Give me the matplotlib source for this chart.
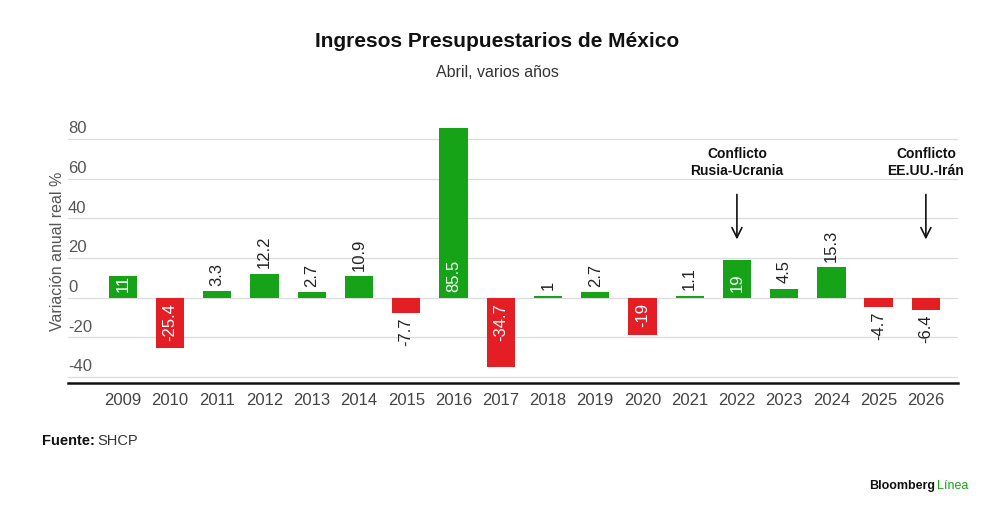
import numpy as np
import matplotlib.pyplot as plt
from matplotlib import transforms

plt.rcParams['font.family'] = ['Liberation Sans', 'DejaVu Sans']

# datos
years = ['2009', '2010', '2011', '2012', '2013', '2014', '2015', '2016', '2017',
         '2018', '2019', '2020', '2021', '2022', '2023', '2024', '2025', '2026']
values = [11, -25.4, 3.3, 12.2, 2.7, 10.9, -7.7, 85.5, -34.7,
          1, 2.7, -19, 1.1, 19, 4.5, 15.3, -4.7, -6.4]
label_inside = [True, True, False, False, False, False, False, True, True,
                False, False, True, False, True, False, False, False, False]
yticks = [-40, -20, 0, 20, 40, 60, 80]
notes = {'2022': 'Conflicto\nRusia-Ucrania', '2026': 'Conflicto\nEE.UU.-Irán'}

GREEN = '#16a318'
RED = '#e31e24'

fig = plt.figure(figsize=(10, 5.16), dpi=100)
ax = fig.add_axes([0.068, 0.2578, 0.89, 0.511])

x = np.arange(len(years))
colors = [GREEN if v >= 0 else RED for v in values]
ax.bar(x, values, width=0.6, color=colors, zorder=3)

ax.set_xlim(-1.16, len(years) - 1 + 0.68)
ax.set_ylim(-43, 90)

# grid + etiquetas del eje y dentro del area
for t in yticks:
    ax.axhline(t, color='#dcdcdc', lw=0.9, zorder=1)
    ax.annotate(str(t), xy=(0, t), xycoords=ax.get_yaxis_transform(),
                xytext=(0, 2), textcoords='offset points',
                ha='left', va='bottom', fontsize=12, color='#555555')
ax.set_yticks([])

ax.set_xticks(x)
ax.set_xticklabels(years, fontsize=12, color='#444444')
ax.tick_params(axis='x', length=0, pad=7)

for s in ['top', 'right', 'left']:
    ax.spines[s].set_visible(False)
ax.spines['bottom'].set_color('#111111')
ax.spines['bottom'].set_linewidth(1.8)
ax.spines['bottom'].set_zorder(4)

ax.set_ylabel('Variación anual real %', fontsize=11.5, color='#555555', labelpad=2)

# etiquetas de valor
for xi, v, inside in zip(x, values, label_inside):
    txt = f'{v:g}'
    if inside:
        off = 4 if v > 0 else -4
        ax.annotate(txt, xy=(xi, 0), xytext=(0, off), textcoords='offset points',
                    ha='center', va='bottom' if v > 0 else 'top',
                    rotation=90, fontsize=12, color='white', zorder=5)
    else:
        off = 4 if v > 0 else -3
        ax.annotate(txt, xy=(xi, v), xytext=(0, off), textcoords='offset points',
                    ha='center', va='bottom' if v > 0 else 'top',
                    rotation=90, fontsize=12, color='#222222', zorder=5)

# anotaciones
for yr, note in notes.items():
    xi = years.index(yr)
    ax.annotate('', xy=(xi, 28), xytext=(xi, 53.5),
                arrowprops=dict(arrowstyle='->', color='#111111', lw=1.2,
                                mutation_scale=18))
    ax.text(xi, 60.5, note, ha='center', va='bottom', fontsize=10,
            fontweight='bold', color='#111111', linespacing=1.25)

fig.text(0.497, 0.92, 'Ingresos Presupuestarios de México', ha='center', va='center',
         fontsize=15, fontweight='bold', color='#111111')
fig.text(0.497, 0.86, 'Abril, varios años', ha='center', va='center',
         fontsize=11.5, color='#333333')

t1 = fig.text(0.042, 0.145, 'Fuente:', ha='left', va='center',
              fontsize=10.5, fontweight='bold', color='#111111')
fig.canvas.draw()
bb = t1.get_window_extent()
fig.text(bb.x1 / fig.bbox.width + 0.002, 0.145, 'SHCP', ha='left', va='center',
         fontsize=10.5, color='#333333')

t2 = fig.text(0.935, 0.058, 'Bloomberg', ha='right', va='center',
              fontsize=9, fontweight='bold', color='#111111')
fig.text(0.937, 0.058, 'Línea', ha='left', va='center',
         fontsize=9, color=GREEN)

fig.savefig('out.png', dpi=100)
